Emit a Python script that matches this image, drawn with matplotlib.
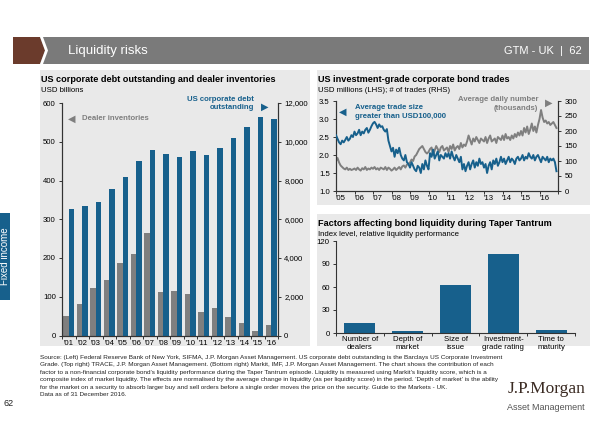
import matplotlib
matplotlib.use("Agg")
import matplotlib.pyplot as plt
from matplotlib.patches import Rectangle, Polygon
import numpy as np

plt.rcParams['font.family'] = ['Liberation Sans', 'DejaVu Sans']

# ---------------- data ----------------
years_left = ["'01", "'02", "'03", "'04", "'05", "'06", "'07", "'08",
              "'09", "'10", "'11", "'12", "'13", "'14", "'15", "'16"]
dealer_inventories = [50, 81, 123, 143, 187, 210, 264, 111,
                      115, 108, 60, 72, 48, 32, 11, 27]
corp_debt_outstanding = [6530, 6670, 6900, 7580, 8160, 9020, 9580, 9370,
                         9200, 9520, 9340, 9660, 10180, 10750, 11270, 11190]

year_ticks_tr = ["'05", "'06", "'07", "'08", "'09", "'10", "'11", "'12",
                 "'13", "'14", "'15", "'16"]
avg_trade_size = [
    2.55, 2.45, 2.35, 2.30, 2.40, 2.35, 2.42, 2.50, 2.40, 2.45, 2.55, 2.50,
    2.65, 2.55, 2.60, 2.70, 2.55, 2.65, 2.60, 2.70, 2.75, 2.62, 2.70, 2.80,
    2.88, 2.92, 2.85, 2.75, 2.85, 2.78, 2.80, 2.70, 2.65, 2.72, 2.40, 2.25,
    2.10, 2.20, 1.95, 2.15, 2.05, 2.20, 2.00, 1.90, 1.85, 2.00, 1.80, 1.75,
    1.65, 1.80, 1.70, 1.60, 1.55, 1.70, 1.65, 1.50, 1.75, 1.60, 1.85, 1.70,
    1.60, 2.05, 1.95, 2.15, 1.90, 2.00, 2.10, 1.85, 2.00, 1.95, 1.90, 2.05,
    1.95, 2.05, 1.90, 2.10, 1.95, 1.85, 2.00, 1.90, 1.80, 1.95, 1.60, 1.75,
    1.55, 1.70, 1.80, 1.60, 1.75, 1.85, 1.65, 1.80, 1.70, 1.90, 1.75, 1.80,
    1.65, 1.75, 1.50, 1.70, 1.80, 1.60, 1.85, 1.75, 1.90, 1.70, 1.80, 1.95,
    1.80, 1.90, 1.75, 1.85, 1.95, 1.80, 1.90, 1.85, 1.75, 1.90, 1.95, 1.85,
    1.90, 2.00, 1.85, 1.95, 1.90, 2.05, 1.95, 1.90, 2.00, 1.85, 1.95, 2.00,
    1.90, 1.80, 1.95, 1.90, 1.85, 1.95, 1.80, 1.90, 1.85, 1.90, 1.80, 1.55,
]
avg_daily_trades = [
    100, 110, 95, 85, 80, 75, 72, 78, 70, 74, 70, 72,
    75, 70, 78, 72, 68, 76, 72, 80, 70, 75, 72, 78,
    74, 80, 72, 76, 70, 78, 75, 72, 80, 70, 78, 74,
    68, 72, 78, 70, 75, 80, 72, 82, 85, 78, 88, 90,
    95, 105, 100, 115, 120, 130, 140, 145, 150, 140, 130, 125,
    130, 140, 145, 120, 135, 150, 140, 130, 145, 150, 135, 140,
    145, 130, 150, 140, 155, 135, 145, 150, 140, 160, 145, 155,
    150, 165, 185, 170, 155, 175, 165, 180, 170, 160, 175, 170,
    165, 180, 160, 175, 185, 165, 170, 175, 160, 180, 175, 170,
    185, 170, 190, 175, 180, 170, 185, 175, 190, 180, 195, 185,
    200, 185, 210, 195, 215, 190, 205, 225, 200, 215, 195, 220,
    240, 270, 245, 230, 235, 225, 230, 220, 225, 230, 220, 210,
]

factor_labels = ["Number of\ndealers", "Depth of\nmarket", "Size of\nissue",
                 "Investment-\ngrade rating", "Time to\nmaturity"]
factor_values = [13.5, 2.2, 63, 103.5, 4.4]

# ---------------- styling ----------------
BLUE = '#17608c'
GRAY = '#7f7f7f'
PANEL = '#e9e9e9'
DARK = '#333333'
W, H = 600, 424

fig = plt.figure(figsize=(6, 4.24), dpi=100)
fig.patch.set_facecolor('white')

def fx(x):
    return x / W

def fy(y):
    return 1 - y / H

def rect(x0, y0, x1, y1, color, z=-10):
    fig.patches.append(Rectangle((fx(x0), fy(y1)), fx(x1) - fx(x0), fy(y0) - fy(y1),
                                 transform=fig.transFigure, color=color, zorder=z, lw=0))

# header
rect(40, 37, 589, 64, '#7a7a7a')
fig.patches.append(Polygon([(fx(13), fy(37)), (fx(40), fy(37)), (fx(45), fy(50.5)),
                            (fx(40), fy(64)), (fx(13), fy(64))],
                           closed=True, transform=fig.transFigure, color='#6b3b2c', zorder=-5, lw=0))
fig.patches.append(Polygon([(fx(40), fy(37)), (fx(43), fy(37)), (fx(48), fy(50.5)),
                            (fx(43), fy(64)), (fx(40), fy(64)), (fx(45), fy(50.5))],
                           closed=True, transform=fig.transFigure, color='white', zorder=-5, lw=0))
fig.text(fx(68), fy(51), 'Liquidity risks', color='white', fontsize=9.5,
         va='center', ha='left', family=['Liberation Sans Narrow', 'Liberation Sans', 'DejaVu Sans'])
fig.text(fx(582), fy(51), 'GTM - UK  |  62', color='white', fontsize=8,
         va='center', ha='right', family=['Liberation Sans Narrow', 'Liberation Sans', 'DejaVu Sans'])

# panels
rect(40, 70, 310, 346, PANEL)
rect(317, 70, 590, 205, PANEL)
rect(317, 214, 590, 346, PANEL)

# fixed income tab
rect(0, 213, 10, 300, BLUE)
fig.text(fx(5.5), fy(256), 'Fixed income', color='white', fontsize=7, rotation=90,
         va='center', ha='center')

# ---------------- left chart ----------------
fig.text(fx(41), fy(79), 'US corporate debt outstanding and dealer inventories',
         fontsize=6.6, fontweight='bold', va='center', ha='left')
fig.text(fx(41), fy(90), 'USD billions', fontsize=5.6, va='center', ha='left')

axL = fig.add_axes([fx(62), fy(335.5), fx(278) - fx(62), fy(103) - fy(335.5)])
axL.set_facecolor('none')
x = np.arange(len(years_left))
bw = 0.39
axL.bar(x - 0.2, dealer_inventories, width=bw, color=GRAY, zorder=2)
axL.set_ylim(0, 600)
axL.set_xlim(-0.5, len(years_left) - 0.5)
axL.set_yticks(range(0, 601, 100))
axL.set_xticks(x)
axL.set_xticklabels(years_left)
axL.set_xticks(np.arange(-0.5, len(years_left), 1), minor=True)
axR = axL.twinx()
axR.bar(x + 0.2, corp_debt_outstanding, width=bw, color=BLUE, zorder=2)
axR.set_ylim(0, 12000)
axR.set_yticks(range(0, 12001, 2000))
axR.set_yticklabels([f'{v:,}' for v in range(0, 12001, 2000)])
for a in (axL, axR):
    a.spines['top'].set_visible(False)
    for s in ('left', 'right', 'bottom'):
        a.spines[s].set_color(DARK)
        a.spines[s].set_linewidth(0.8)
    a.tick_params(labelsize=5.6, length=2.5, width=0.7, color=DARK, pad=2)
axL.tick_params(axis='x', which='major', length=0, pad=3)
axL.tick_params(axis='x', which='minor', length=2.5, width=0.7, color=DARK)
axR.set_facecolor('none')

fig.text(fx(254), fy(103.5), 'US corporate debt\noutstanding', color=BLUE, fontsize=5.6,
         fontweight='bold', ha='right', va='center', linespacing=1.25)
fig.text(fx(265), fy(107), '\u25B6', color=BLUE, fontsize=7, ha='center', va='center',
         family=['DejaVu Sans'])
fig.text(fx(72), fy(119), '\u25C0', color=GRAY, fontsize=7, ha='center', va='center',
         family=['DejaVu Sans'])
fig.text(fx(82), fy(119), 'Dealer inventories', color=GRAY, fontsize=5.6, fontweight='bold',
         ha='left', va='center')

# ---------------- top right chart ----------------
fig.text(fx(318), fy(79), 'US investment-grade corporate bond trades',
         fontsize=6.6, fontweight='bold', va='center', ha='left')
fig.text(fx(318), fy(90), 'USD millions (LHS); # of trades (RHS)', fontsize=5.6, va='center', ha='left')

axT = fig.add_axes([fx(336), fy(191), fx(558) - fx(336), fy(101) - fy(191)])
axT.set_facecolor('none')
t = 2005 + np.arange(len(avg_trade_size)) / 12.0
axT2 = axT.twinx()
axT2.plot(t, avg_daily_trades, color=GRAY, lw=1.4, zorder=2)
axT2.set_ylim(0, 300)
axT2.set_yticks(range(0, 301, 50))
axT.plot(t, avg_trade_size, color=BLUE, lw=1.4, zorder=3)
axT.set_zorder(axT2.get_zorder() + 1)
axT.set_ylim(1.0, 3.5)
axT.set_yticks(np.arange(1.0, 3.51, 0.5))
axT.set_yticklabels([f'{v:.1f}' for v in np.arange(1.0, 3.51, 0.5)])
axT.set_xlim(2005, 2017)
axT.set_xticks(np.arange(2005, 2017) + 0.25)
axT.set_xticklabels(year_ticks_tr)
axT.set_xticks(np.arange(2005, 2018), minor=True)
for a in (axT, axT2):
    a.set_facecolor('none')
    a.spines['top'].set_visible(False)
    for s in ('left', 'right', 'bottom'):
        a.spines[s].set_color(DARK)
        a.spines[s].set_linewidth(0.8)
    a.tick_params(labelsize=5.6, length=2.5, width=0.7, color=DARK, pad=2)
axT.tick_params(axis='x', which='major', length=0, pad=3)
axT.tick_params(axis='x', which='minor', length=2.5, width=0.7, color=DARK)

fig.text(fx(343), fy(112), '\u25C0', color=BLUE, fontsize=7, ha='center', va='center',
         family=['DejaVu Sans'])
fig.text(fx(355), fy(112), 'Average trade size\ngreater than USD100,000', color=BLUE,
         fontsize=5.6, fontweight='bold', ha='left', va='center', linespacing=1.25)
fig.text(fx(538), fy(104), 'Average daily number\n(thousands)', color=GRAY,
         fontsize=5.6, fontweight='bold', ha='right', va='center', linespacing=1.25)
fig.text(fx(549), fy(103), '\u25B6', color=GRAY, fontsize=7, ha='center', va='center',
         family=['DejaVu Sans'])

# ---------------- bottom right chart ----------------
fig.text(fx(318), fy(223), 'Factors affecting bond liquidity during Taper Tantrum',
         fontsize=6.6, fontweight='bold', va='center', ha='left')
fig.text(fx(318), fy(234), 'Index level, relative liquidity performance', fontsize=5.6,
         va='center', ha='left')

axB = fig.add_axes([fx(336), fy(333), fx(575) - fx(336), fy(241) - fy(333)])
axB.set_facecolor('none')
xb = np.arange(len(factor_labels))
axB.bar(xb, factor_values, width=0.65, color=BLUE, zorder=2)
axB.set_xlim(-0.5, len(factor_labels) - 0.5)
axB.set_ylim(0, 120)
axB.set_yticks(range(0, 121, 30))
axB.set_xticks(xb)
axB.set_xticklabels(factor_labels, linespacing=1.15)
axB.set_xticks(np.arange(-0.5, len(factor_labels), 1), minor=True)
for s in ('top', 'right'):
    axB.spines[s].set_visible(False)
for s in ('left', 'bottom'):
    axB.spines[s].set_color(DARK)
    axB.spines[s].set_linewidth(0.8)
axB.tick_params(labelsize=5.6, length=2.5, width=0.7, color=DARK, pad=2)
axB.tick_params(axis='x', which='major', length=0, pad=2)
axB.tick_params(axis='x', which='minor', length=2.5, width=0.7, color=DARK)

# ---------------- footer ----------------
source = ("Source: (Left) Federal Reserve Bank of New York, SIFMA, J.P. Morgan Asset Management. US corporate debt outstanding is the Barclays US Corporate Investment\n"
          "Grade. (Top right) TRACE, J.P. Morgan Asset Management. (Bottom right) Markit, IMF, J.P. Morgan Asset Management. The chart shows the contribution of each\n"
          "factor to a non-financial corporate bond's liquidity performance during the Taper Tantrum episode. Liquidity is measured using Markit's liquidity score, which is a\n"
          "composite index of market liquidity. The effects are normalised by the average change in liquidity (as per liquidity score) in the period. 'Depth of market' is the ability\n"
          "for the market on a security to absorb larger buy and sell orders before a single order moves the price on the security. Guide to the Markets - UK.\n"
          "Data as of 31 December 2016.")
fig.text(fx(40), fy(355), source, fontsize=4.6, va='top', ha='left', linespacing=1.62, color='#222222')
fig.text(fx(4), fy(404), '62', fontsize=6.5, va='center', ha='left', color='#222222')
fig.text(fx(585), fy(389), 'J.P.Morgan', fontsize=12.5, va='center', ha='right',
         family=['Liberation Serif', 'DejaVu Serif'], color='#3a2a22')
fig.text(fx(585), fy(408), 'Asset Management', fontsize=6.5, va='center', ha='right',
         family=['Liberation Sans Narrow', 'Liberation Sans', 'DejaVu Sans'], color='#555555')

fig.savefig('out.png', dpi=100, facecolor='white')
